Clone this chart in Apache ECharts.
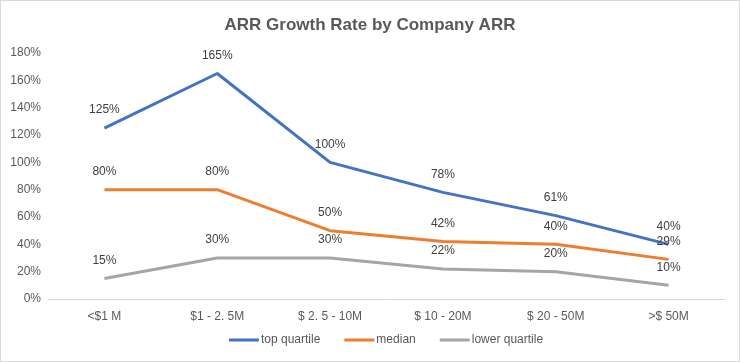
<!DOCTYPE html>
<html><head><meta charset="utf-8">
<script src="https://cdn.jsdelivr.net/npm/echarts@6/dist/echarts.min.js"></script>
<style>html,body{margin:0;padding:0;background:#fff}#c{width:738px;height:360px;border:1px solid #d9d9d9}</style>
</head><body><div id="c"></div>
<script>
const categories = ['<$1 M', '$1 - 2. 5M', '$ 2. 5 - 10M', '$ 10 - 20M', '$ 20 - 50M', '>$ 50M'];
const topQuartile = [125, 165, 100, 78, 61, 40];
const median = [80, 80, 50, 42, 40, 29];
const lowerQuartile = [15, 30, 30, 22, 20, 10];
const yTicks = {min: 0, max: 180, interval: 20};

const chart = echarts.init(document.getElementById('c'));
const lbl = {show: true, position: 'top', distance: 12, formatter: p => p.value + '%', color: '#404040', fontSize: 12, fontFamily: 'Liberation Sans'};
function mk(name, data, color) {
  return {name, type: 'line', data, symbol: 'circle', symbolSize: 0.01, showSymbol: true, smooth: false,
    lineStyle: {color, width: 3}, itemStyle: {color}, label: lbl, emphasis: {disabled: true}};
}
chart.setOption({
  animation: false,
  textStyle: {fontFamily: 'Liberation Sans'},
  title: {text: 'ARR Growth Rate by Company ARR', left: 'center', top: 11,
    textStyle: {fontSize: 17, fontWeight: 'bold', color: '#595959', fontFamily: 'Liberation Sans'}},
  legend: {bottom: 10, left: 223, icon: 'rect', itemWidth: 30, itemHeight: 3, itemGap: 24,
    textStyle: {color: '#595959', fontSize: 12, padding: [0, 0, 0, -3]},
    data: ['top quartile', 'median', 'lower quartile']},
  grid: {left: 47, right: 14, top: 52, bottom: 62},
  xAxis: {type: 'category', data: categories, boundaryGap: true,
    axisLine: {lineStyle: {color: '#d9d9d9'}}, axisTick: {show: false},
    axisLabel: {color: '#595959', fontSize: 12, margin: 12}},
  yAxis: {type: 'value', min: yTicks.min, max: yTicks.max, interval: yTicks.interval,
    axisLine: {show: false}, axisTick: {show: false}, splitLine: {show: false},
    axisLabel: {formatter: '{value}%', color: '#595959', fontSize: 12, margin: 7}},
  series: [
    mk('top quartile', topQuartile, '#4472C4'),
    mk('median', median, '#ED7D31'),
    mk('lower quartile', lowerQuartile, '#A5A5A5')
  ]
});
</script></body></html>
